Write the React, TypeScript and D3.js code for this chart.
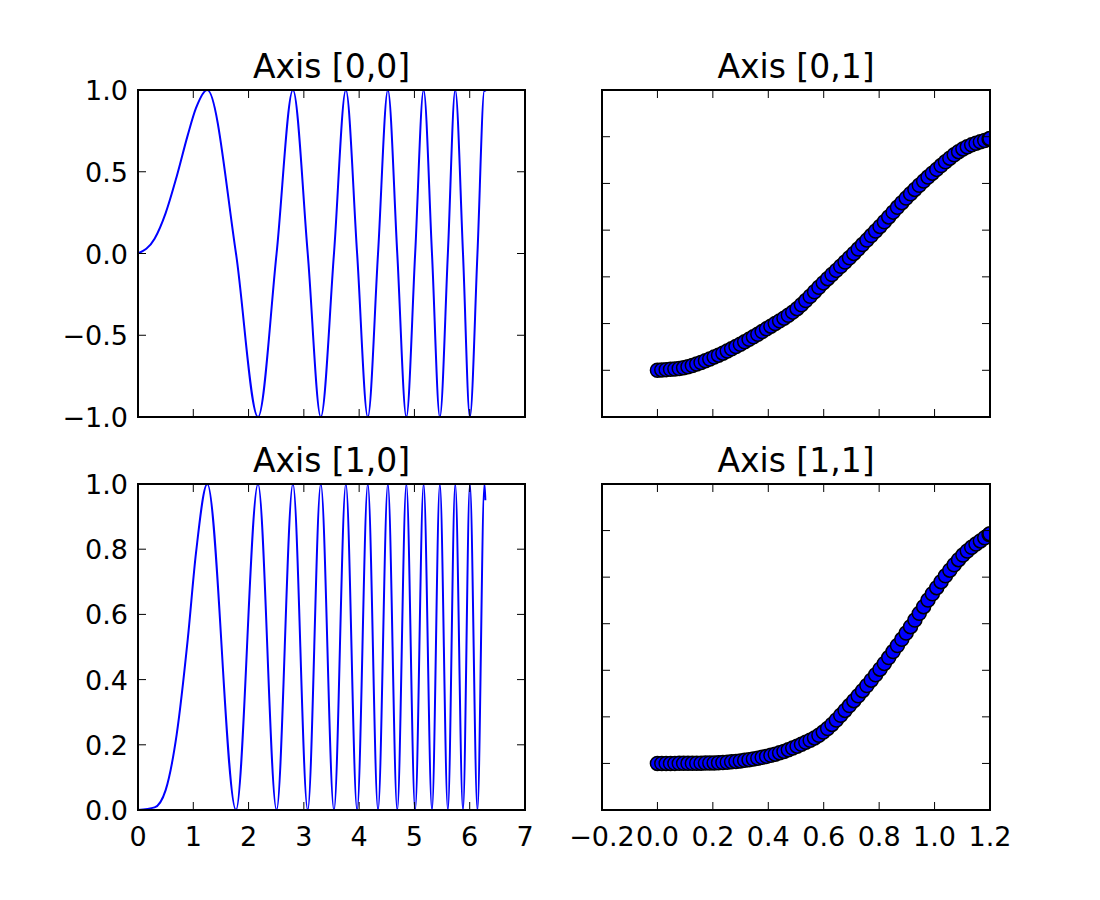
import React from "react";
import * as d3 from "d3";

const ext = [1.2533, 2.1708, 2.8025, 3.3066, 3.7599, 4.1568, 4.5199, 4.8541, 5.1662, 5.46, 5.7383, 6.0032, 6.2666];
const zeros = [1.7725, 2.5066, 3.07, 3.5449, 3.9633, 4.3416, 4.6895, 5.0133, 5.3174, 5.605, 5.8785, 6.14];
const startX = [0, 0.3, 0.5, 0.7, 0.9, 1.05];
const startY0 = [0, 0.09, 0.247, 0.471, 0.724, 0.89];
const startY1 = [0, 0.008, 0.061, 0.232, 0.524, 0.79];
const endX = 6.2832, endY0 = 0.99, endY1 = 0.95;

const trX = [0, 0.1, 0.2, 0.3, 0.4, 0.5, 0.6, 0.7, 0.8, 0.9, 1.0, 1.1, 1.2];
const trY = [1.0, 1.06, 1.27, 1.56, 1.91, 2.3, 2.88, 3.45, 4.06, 4.7, 5.26, 5.73, 5.96];
const brX = [0, 0.2, 0.4, 0.5, 0.6, 0.7, 0.8, 0.9, 1.0, 1.1, 1.2];
const brY = [1.0, 1.01, 1.16, 1.36, 1.68, 2.29, 3.0, 3.82, 4.71, 5.46, 5.93];

const leftXTicks = [0, 1, 2, 3, 4, 5, 6, 7];
const rightXTicks = [-0.2, 0, 0.2, 0.4, 0.6, 0.8, 1.0, 1.2];
const topYTicks = [-1, -0.5, 0, 0.5, 1];
const botYTicks = [0, 0.2, 0.4, 0.6, 0.8, 1.0];
const rightYTicks = [1, 2, 3, 4, 5, 6];

function linePts(kind: 0 | 1) {
  const pts: [number, number][] = startX.map((x, i) => [x, kind === 0 ? startY0[i] : startY1[i]]);
  ext.forEach((x, i) => pts.push([x, kind === 0 ? (i % 2 === 0 ? 1 : -1) : 1]));
  zeros.forEach((x) => pts.push([x, 0]));
  pts.push([endX, kind === 0 ? endY0 : endY1]);
  return pts.sort((a, b) => a[0] - b[0]);
}

// monotone cubic Hermite (Fritsch-Carlson) through read values
function monotone(xs: number[], ys: number[]) {
  const n = xs.length;
  const d: number[] = [];
  for (let i = 0; i < n - 1; i++) d.push((ys[i + 1] - ys[i]) / (xs[i + 1] - xs[i]));
  const m: number[] = [d[0]];
  for (let i = 1; i < n - 1; i++) m.push(d[i - 1] * d[i] <= 0 ? 0 : (d[i - 1] + d[i]) / 2);
  m.push(d[n - 2]);
  for (let i = 0; i < n - 1; i++) {
    if (d[i] === 0) { m[i] = 0; m[i + 1] = 0; continue; }
    const a = m[i] / d[i], b = m[i + 1] / d[i], s = a * a + b * b;
    if (s > 9) { const t = 3 / Math.sqrt(s); m[i] = t * a * d[i]; m[i + 1] = t * b * d[i]; }
  }
  return (x: number) => {
    let i = Math.max(0, Math.min(n - 2, d3.bisectRight(xs, x) - 1));
    const h = xs[i + 1] - xs[i], t = (x - xs[i]) / h;
    const t2 = t * t, t3 = t2 * t;
    return (2 * t3 - 3 * t2 + 1) * ys[i] + (t3 - 2 * t2 + t) * h * m[i] + (-2 * t3 + 3 * t2) * ys[i + 1] + (t3 - t2) * h * m[i + 1];
  };
}

const fmt = (v: number, d: number) => (v < 0 ? "\u2212" : "") + Math.abs(v).toFixed(d);
const font = "DejaVu Sans, sans-serif";

function Frame({ x0, x1, y0, y1, xs, ys, xt, yt, xl, yl, xd, yd, title }: any) {
  return (
    <g>
      <text x={(x0 + x1) / 2} y={y0 - 12} textAnchor="middle" fontSize={33} fontFamily={font}>{title}</text>
      {xt.map((t: number) => (
        <g key={"x" + t}>
          <line x1={xs(t)} x2={xs(t)} y1={y1} y2={y1 - 8} stroke="black" strokeWidth={1} />
          <line x1={xs(t)} x2={xs(t)} y1={y0} y2={y0 + 8} stroke="black" strokeWidth={1} />
          {xl && <text x={xs(t)} y={y1 + 36} textAnchor="middle" fontSize={27} fontFamily={font}>{fmt(t, xd)}</text>}
        </g>
      ))}
      {yt.map((t: number) => (
        <g key={"y" + t}>
          <line x1={x0} x2={x0 + 8} y1={ys(t)} y2={ys(t)} stroke="black" strokeWidth={1} />
          <line x1={x1} x2={x1 - 8} y1={ys(t)} y2={ys(t)} stroke="black" strokeWidth={1} />
          {yl && <text x={x0 - 10} y={ys(t) + 10} textAnchor="end" fontSize={27} fontFamily={font}>{fmt(t, yd)}</text>}
        </g>
      ))}
      <rect x={x0} y={y0} width={x1 - x0} height={y1 - y0} fill="none" stroke="black" strokeWidth={2} />
    </g>
  );
}

export default function App() {
  const L = [138, 525], R = [602, 990], T = [90, 417], B = [484, 810];
  const xl = d3.scaleLinear().domain([0, 7]).range(L);
  const xr = d3.scaleLinear().domain([-0.2, 1.2]).range(R);
  const yt = d3.scaleLinear().domain([-1, 1]).range([T[1], T[0]]);
  const yb = d3.scaleLinear().domain([0, 1]).range([B[1], B[0]]);
  const yrt = d3.scaleLinear().domain([0, 7]).range([T[1], T[0]]);
  const yrb = d3.scaleLinear().domain([0, 7]).range([B[1], B[0]]);
  const lt = d3.line<[number, number]>().x((d) => xl(d[0])).y((d) => yt(d[1])).curve(d3.curveMonotoneX);
  const lb = d3.line<[number, number]>().x((d) => xl(d[0])).y((d) => yb(d[1])).curve(d3.curveMonotoneX);
  const fTop = monotone(trX, trY);
  const fBot = monotone(brX, brY);
  const xsPts = d3.range(0, 1.2 + 1e-9, 2 * Math.PI / 399).concat([1.2]);
  return (
    <svg width={1100} height={900} style={{ position: "absolute", left: 0, top: 0, background: "white" }}>
      <rect width={1100} height={900} fill="white" />
      <defs>
        <clipPath id="ct"><rect x={R[0]} y={T[0]} width={R[1] - R[0]} height={T[1] - T[0]} /></clipPath>
        <clipPath id="cb"><rect x={R[0]} y={B[0]} width={R[1] - R[0]} height={B[1] - B[0]} /></clipPath>
      </defs>
      <path d={lt(linePts(0)) || ""} fill="none" stroke="#0000ff" strokeWidth={2} />
      <path d={lb(linePts(1)) || ""} fill="none" stroke="#0000ff" strokeWidth={2} />
      <g clipPath="url(#ct)">
        {xsPts.map((x, i) => <circle key={i} cx={xr(x)} cy={yrt(fTop(x))} r={7} fill="#0000ff" stroke="black" strokeWidth={1.5} />)}
      </g>
      <g clipPath="url(#cb)">
        {xsPts.map((x, i) => <circle key={i} cx={xr(x)} cy={yrb(fBot(x))} r={7} fill="#0000ff" stroke="black" strokeWidth={1.5} />)}
      </g>
      <Frame x0={L[0]} x1={L[1]} y0={T[0]} y1={T[1]} xs={xl} ys={yt} xt={leftXTicks} yt={topYTicks} xl={false} yl={true} xd={0} yd={1} title="Axis [0,0]" />
      <Frame x0={R[0]} x1={R[1]} y0={T[0]} y1={T[1]} xs={xr} ys={yrt} xt={rightXTicks} yt={rightYTicks} xl={false} yl={false} xd={1} yd={1} title="Axis [0,1]" />
      <Frame x0={L[0]} x1={L[1]} y0={B[0]} y1={B[1]} xs={xl} ys={yb} xt={leftXTicks} yt={botYTicks} xl={true} yl={true} xd={0} yd={1} title="Axis [1,0]" />
      <Frame x0={R[0]} x1={R[1]} y0={B[0]} y1={B[1]} xs={xr} ys={yrb} xt={rightXTicks} yt={rightYTicks} xl={true} yl={false} xd={1} yd={1} title="Axis [1,1]" />
    </svg>
  );
}
